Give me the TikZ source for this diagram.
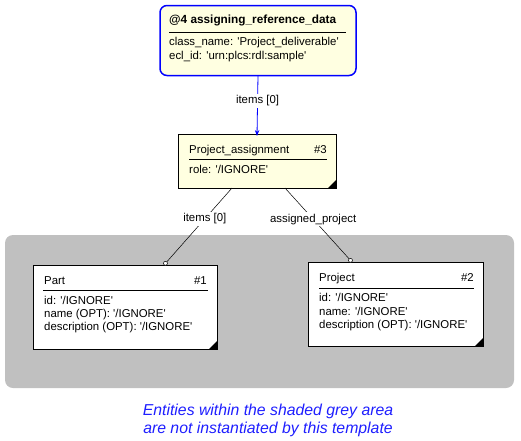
\documentclass[tikz,border=0pt]{standalone}
\usepackage{fontspec}
\setmainfont{Liberation Sans}
\usetikzlibrary{arrows.meta}
\definecolor{entyellow}{RGB}{255,255,225}
\definecolor{areagrey}{RGB}{192,192,192}
\definecolor{noteblue}{RGB}{30,30,255}
\newcommand{\ign}{\textquotesingle/IGNORE\textquotesingle}
\begin{document}
\begin{tikzpicture}[x=1pt,y=-1pt,
  entbox/.style={draw, line width=0.8pt, inner sep=0pt, outer sep=0pt},
  txt/.style={font=\fontsize{11.4}{13}\selectfont, inner sep=0pt, text height=8pt, text depth=2.5pt, anchor=west},
  lbl/.style={font=\fontsize{11.4}{13}\selectfont, fill=white, inner sep=1.5pt},
  link/.style={line width=0.5pt, -{Circle[length=4.5pt,fill=white]}}]

  \useasboundingbox (0,0) rectangle (521,440);

  % grey area
  \fill[areagrey, rounded corners=8pt] (5,235) rectangle (514,388);

  % @4 reference data
  \node[entbox, draw=blue, line width=1.5pt, rounded corners=7pt, fill=entyellow, minimum width=196pt, minimum height=70pt] (rd) at (258,40.5) {};
  \node[txt, font=\fontsize{11.8}{13}\selectfont\bfseries] (rdt) at (169,21) {@4 assigning\_reference\_data};
  \draw[line width=1pt] (169,32) -- (346,32);
  \node[txt] (rda) at (169,43) {class\_name: \textquotesingle Project\_deliverable\textquotesingle};
  \node[txt] (rdb) at (169,57) {ecl\_id: \textquotesingle urn:plcs:rdl:sample\textquotesingle};

  % #3
  \node[entbox, fill=entyellow, minimum width=158pt, minimum height=54pt] (p3) at (257,161) {};
  \node[txt] (p3t) at (189,151) {Project\_assignment};
  \node[txt, anchor=east] (p3n) at (327,151) {\#3};
  \draw (189,159) -- (327,159);
  \node[txt] (p3a) at (189,171) {role: \ign};
  \fill (p3.south east) -- ++(-8,0) -- ++(8,-8) -- cycle;

  % #1
  \node[entbox, fill=white, minimum width=184pt, minimum height=84pt] (part) at (125,307) {};
  \node[txt] (partt) at (44,282) {Part};
  \node[txt, anchor=east] (partn) at (207,282) {\#1};
  \draw (43,290) -- (208,290);
  \node[txt] (parta) at (44,302) {id: \ign};
  \node[txt] (partb) at (44,315) {name (OPT): \ign};
  \node[txt] (partc) at (44,328) {description (OPT): \ign};
  \fill (part.south east) -- ++(-8,0) -- ++(8,-8) -- cycle;

  % #2
  \node[entbox, fill=white, minimum width=175pt, minimum height=84pt] (proj) at (395.5,304) {};
  \node[txt] (projt) at (319,279) {Project};
  \node[txt, anchor=east] (projn) at (474,279) {\#2};
  \draw (319,288) -- (474,288);
  \node[txt] (proja) at (319,299) {id: \ign};
  \node[txt] (projb) at (319,313) {name: \ign};
  \node[txt] (projc) at (319,326) {description (OPT): \ign};
  \fill (proj.south east) -- ++(-8,0) -- ++(8,-8) -- cycle;

  % connectors
  \draw[blue, line width=0.8pt, -{Stealth[length=6pt,width=4.5pt]}] (rd.south) -- node[lbl, text=black, pos=0.42] {items [0]} ([yshift=-2pt]p3.north);
  \draw[link] ([xshift=-25pt]p3.south) -- node[lbl, pos=0.4] {items [0]} ([xshift=39pt]part.north);
  \draw[link] ([xshift=28pt]p3.south) -- node[lbl, pos=0.42] {assigned\_project} ([xshift=-43.5pt]proj.north);

  % note
  \node[text=noteblue, font=\fontsize{15.8}{18}\selectfont\itshape, align=center] (note) at (268,420) {Entities within the shaded grey area\\are not instantiated by this template};
\end{tikzpicture}
\end{document}
